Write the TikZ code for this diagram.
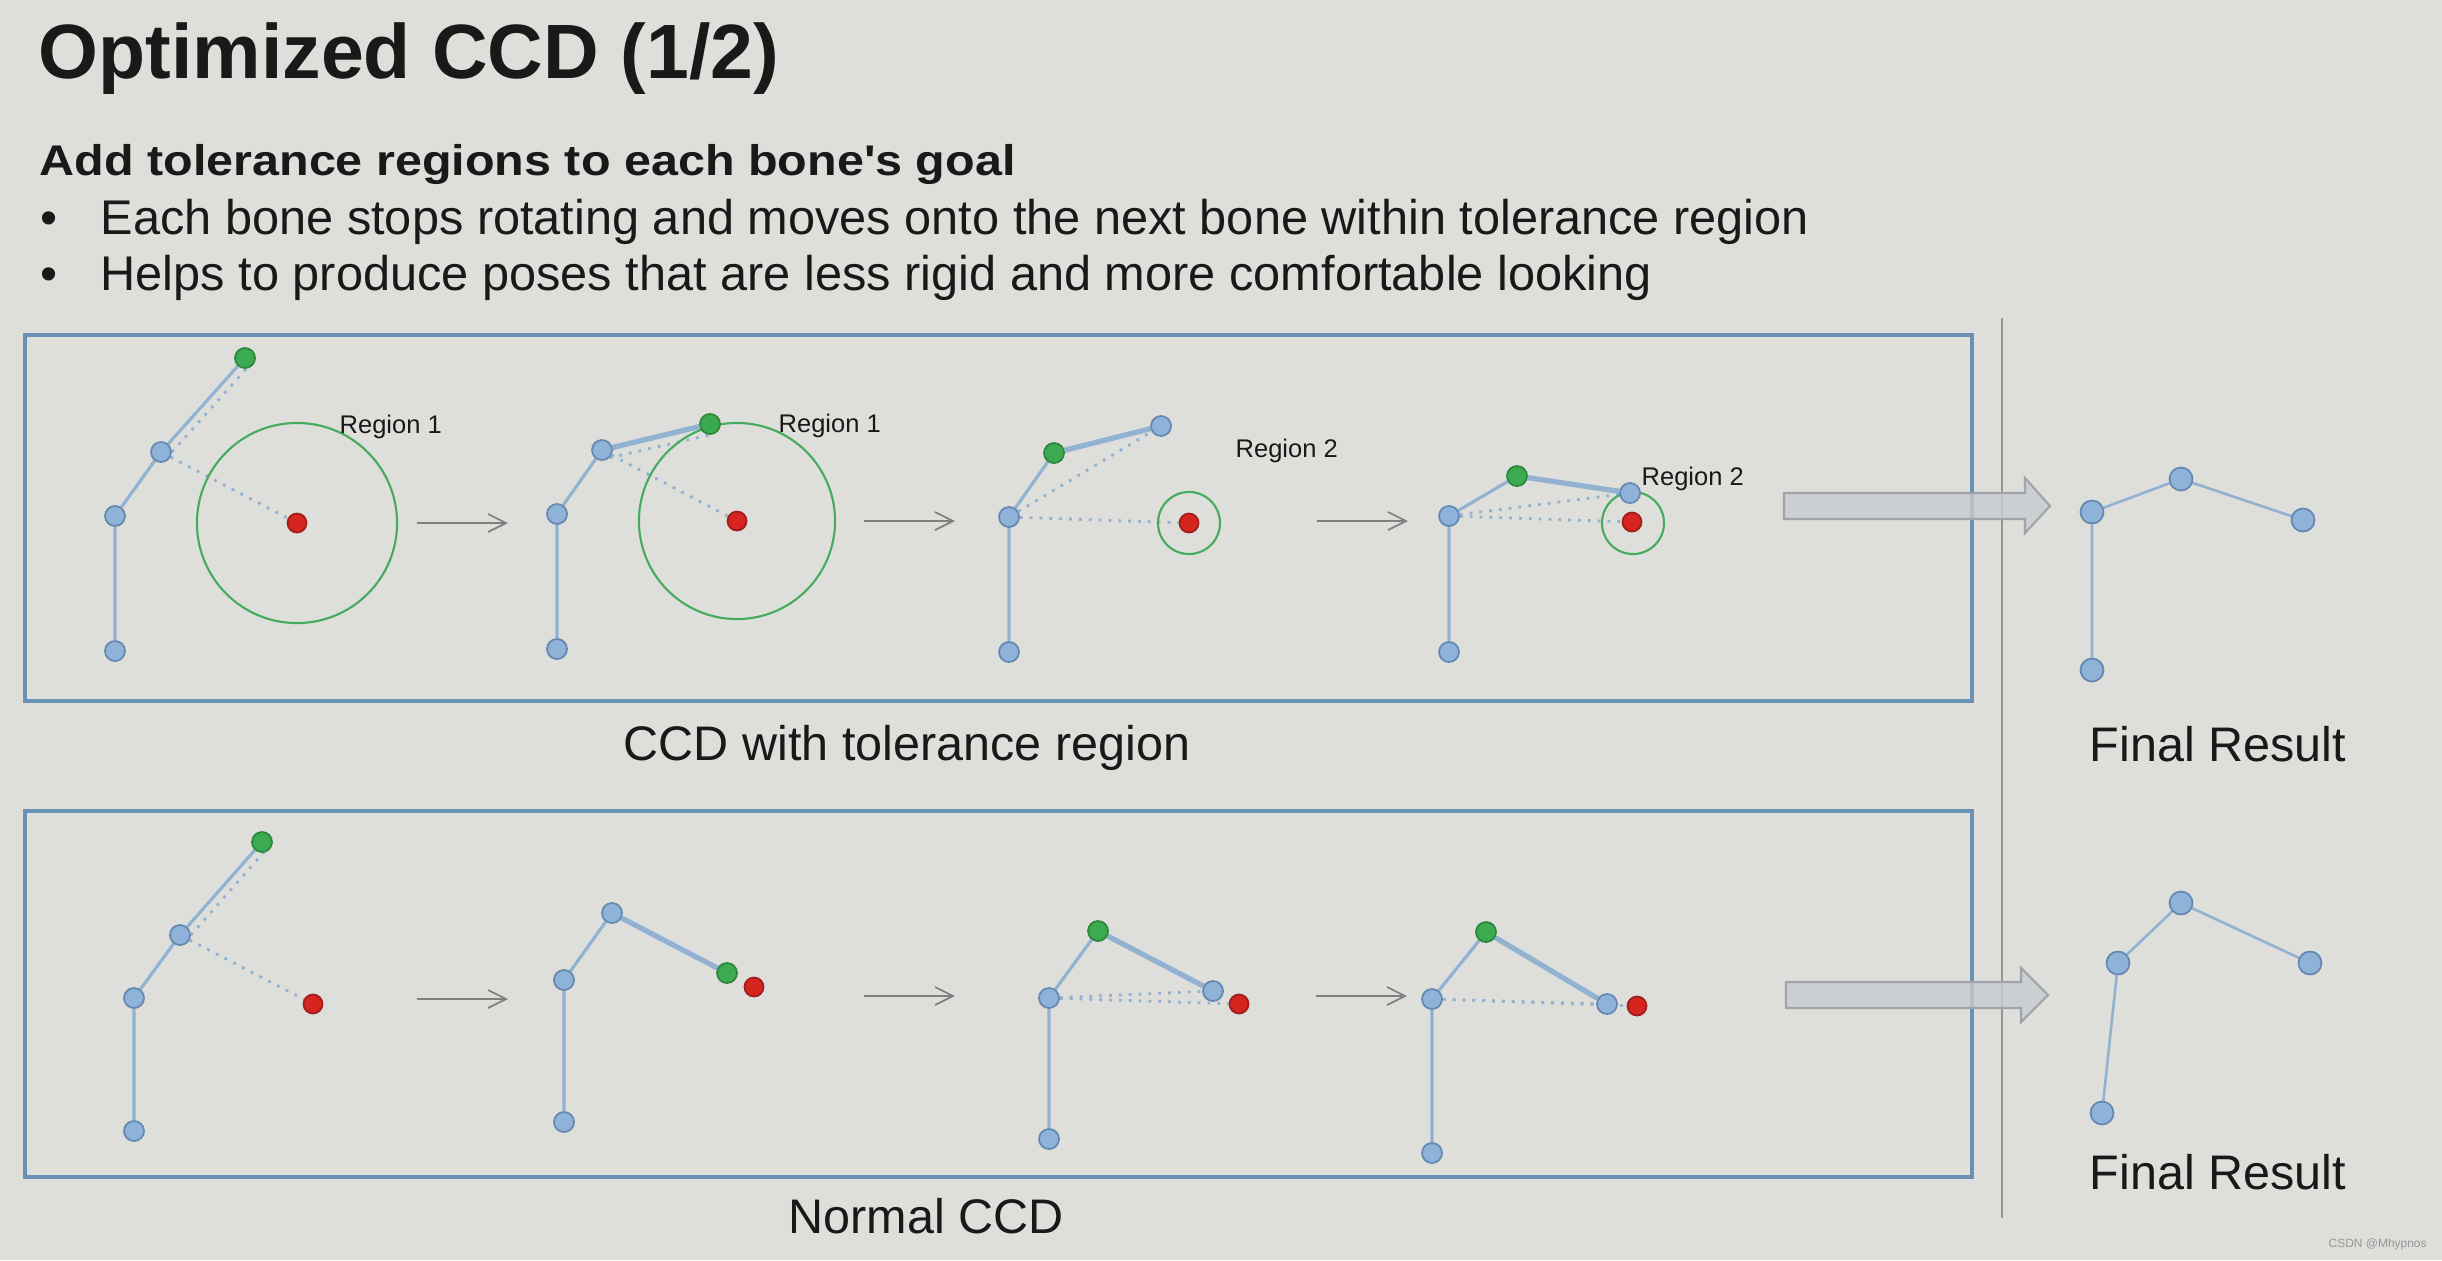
\documentclass[tikz,border=0pt]{standalone}
\usepackage{fontspec}
\setmainfont{Liberation Sans}[Ligatures=TeXOff]
\usetikzlibrary{arrows.meta}
\usetikzlibrary{backgrounds}

\definecolor{slidebg}{RGB}{222,223,218}
\definecolor{framecol}{RGB}{104,146,180}
\definecolor{sepcol}{RGB}{150,150,150}
\definecolor{bonecol}{RGB}{146,178,210}
\definecolor{jointfill}{RGB}{142,178,216}
\definecolor{jointedge}{RGB}{100,136,176}
\definecolor{effgreen}{RGB}{60,170,80}
\definecolor{effedge}{RGB}{45,135,60}
\definecolor{goalred}{RGB}{214,36,30}
\definecolor{goaledge}{RGB}{160,30,30}
\definecolor{regiongreen}{RGB}{70,170,95}
\definecolor{textcol}{RGB}{25,25,25}
\definecolor{arrowfill}{RGB}{200,203,207}
\definecolor{arrowedge}{RGB}{160,164,170}

\begin{document}
\begin{tikzpicture}[x=0.01cm, y=-0.01cm]
            \tikzstyle{bone joint} = [circle, inner sep=0, minimum size=0.2cm, fill=jointfill, draw=jointedge, line width=0.5pt]
            \tikzstyle{final joint} = [bone joint, minimum size=0.23cm]
            \tikzstyle{effector joint} = [bone joint, fill=effgreen, draw=effedge]
            \tikzstyle{goal point} = [bone joint, minimum size=0.19cm, fill=goalred, draw=goaledge]
            \tikzstyle{tolerance region} = [circle, inner sep=0, draw=regiongreen, line width=0.6pt]
            \tikzstyle{bone} = [bonecol, line width=0.9pt]
            \tikzstyle{active bone} = [bonecol, line width=1.5pt]
            \tikzstyle{bone guide} = [bonecol, line width=0.8pt, dotted]
            \tikzstyle{stage arrow} = [gray, line width=0.5pt, -{Straight Barb[length=1.8mm, width=1.8mm]}]
            \tikzstyle{panel frame} = [draw=framecol, line width=0.9pt]
            \tikzstyle{result arrow} = [fill=arrowfill, draw=arrowedge, line width=0.6pt, fill opacity=0.8]
            \tikzstyle{slide text} = [anchor=base west, inner sep=0, text=textcol]
            \tikzstyle{region label} = [slide text, font=\fontsize{7.25}{9}\selectfont]
            \tikzstyle{caption} = [slide text, font=\fontsize{13.8}{16}\selectfont]

            \useasboundingbox (0,0) rectangle (2442,1260);

            \node[slide text, font=\fontsize{21.9}{26}\selectfont\bfseries] (title) at (38,78) {Optimized CCD (1/2)};
            \node[slide text, font=\fontsize{12.2}{15}\selectfont\bfseries] (subtitle) at (39,175) {\scalebox{1.13}[1]{Add tolerance regions to each bone's goal}};
            \node[caption, font=\fontsize{13.85}{16}\selectfont] (dot1) at (40,234) {•};
            \node[caption, font=\fontsize{13.85}{16}\selectfont] (dot2) at (40,290) {•};
            \node[caption, font=\fontsize{13.85}{16}\selectfont] (item1) at (100,234) {Each bone stops rotating and moves onto the next bone within tolerance region};
            \node[caption, font=\fontsize{13.85}{16}\selectfont] (item2) at (100,290) {Helps to produce poses that are less rigid and more comfortable looking};

            \draw[panel frame] (25,335) rectangle (1972,701);
            \draw[panel frame] (25,811) rectangle (1972,1177);
            \draw[sepcol, line width=0.55pt] (2002,318) -- (2002,1218);

            \node[caption] (toplabel) at (623,760) {CCD with tolerance region};
            \node[caption] (botlabel) at (788,1233) {Normal CCD};
            \node[caption] (topfinal) at (2089,761) {Final Result};
            \node[caption] (botfinal) at (2089,1189) {Final Result};
            \node[slide text, text=sepcol, font=\fontsize{3.4}{4}\selectfont] (mark) at (2328,1247) {CSDN @Mhypnos};

            \node[tolerance region, minimum size=2cm] (t1reg) at (297,523) {};
            \node[tolerance region, minimum size=1.96cm] (t2reg) at (737,521) {};
            \node[tolerance region, minimum size=0.62cm] (t3reg) at (1189,523) {};
            \node[tolerance region, minimum size=0.62cm] (t4reg) at (1633,523) {};

            \node[region label] (t1lab) at (339,433) {Region 1};
            \node[region label] (t2lab) at (778,432) {Region 1};
            \node[region label] (t3lab) at (1235,457) {Region 2};
            \node[region label] (t4lab) at (1641,485) {Region 2};

            % with tolerance region
            \node[bone joint] (t1j1) at (115,651) {};
            \node[bone joint] (t1j2) at (115,516) {};
            \node[bone joint] (t1j3) at (161,452) {};
            \node[effector joint] (t1j4) at (245,358) {};
            \node[goal point] (t1g) at (297,523) {};

            \node[bone joint] (t2j1) at (557,649) {};
            \node[bone joint] (t2j2) at (557,514) {};
            \node[bone joint] (t2j3) at (602,450) {};
            \node[effector joint] (t2j4) at (710,424) {};
            \node[goal point] (t2g) at (737,521) {};

            \node[bone joint] (t3j1) at (1009,652) {};
            \node[bone joint] (t3j2) at (1009,517) {};
            \node[effector joint] (t3j3) at (1054,453) {};
            \node[bone joint] (t3j4) at (1161,426) {};
            \node[goal point] (t3g) at (1189,523) {};

            \node[bone joint] (t4j1) at (1449,652) {};
            \node[bone joint] (t4j2) at (1449,516) {};
            \node[effector joint] (t4j3) at (1517,476) {};
            \node[bone joint] (t4j4) at (1630,493) {};
            \node[goal point] (t4g) at (1632,522) {};

            % normal CCD
            \node[bone joint] (b1j1) at (134,1131) {};
            \node[bone joint] (b1j2) at (134,998) {};
            \node[bone joint] (b1j3) at (180,935) {};
            \node[effector joint] (b1j4) at (262,842) {};
            \node[goal point] (b1g) at (313,1004) {};

            \node[bone joint] (b2j1) at (564,1122) {};
            \node[bone joint] (b2j2) at (564,980) {};
            \node[bone joint] (b2j3) at (612,913) {};
            \node[effector joint] (b2j4) at (727,973) {};
            \node[goal point] (b2g) at (754,987) {};

            \node[bone joint] (b3j1) at (1049,1139) {};
            \node[bone joint] (b3j2) at (1049,998) {};
            \node[effector joint] (b3j3) at (1098,931) {};
            \node[bone joint] (b3j4) at (1213,991) {};
            \node[goal point] (b3g) at (1239,1004) {};

            \node[bone joint] (b4j1) at (1432,1153) {};
            \node[bone joint] (b4j2) at (1432,999) {};
            \node[effector joint] (b4j3) at (1486,932) {};
            \node[bone joint] (b4j4) at (1607,1004) {};
            \node[goal point] (b4g) at (1637,1006) {};

            % final results
            \node[final joint] (tfj1) at (2092,670) {};
            \node[final joint] (tfj2) at (2092,512) {};
            \node[final joint] (tfj3) at (2181,479) {};
            \node[final joint] (tfj4) at (2303,520) {};

            \node[final joint] (bfj1) at (2102,1113) {};
            \node[final joint] (bfj2) at (2118,963) {};
            \node[final joint] (bfj3) at (2181,903) {};
            \node[final joint] (bfj4) at (2310,963) {};

            \draw[result arrow] (1784,493) -- (2025,493) -- (2025,478) -- (2050,506) -- (2025,533) -- (2025,519) -- (1784,519) -- cycle;
            \draw[result arrow] (1786,982) -- (2021,982) -- (2021,968) -- (2048,995) -- (2021,1022) -- (2021,1008) -- (1786,1008) -- cycle;

            \foreach \n/\x/\y in {1/417/523, 2/864/521, 3/1317/521, 4/417/999, 5/864/996, 6/1316/996} {
                \coordinate (arr\n) at (\x,\y);
                \draw[stage arrow] (arr\n) -- ++(91,0);
            }

            \begin{pgfonlayer}{background}
                \fill[slidebg] (0,0) rectangle (2442,1260);
                \foreach \s in {t1,b1} \draw[bone] (\s j1) -- (\s j2) -- (\s j3) -- (\s j4);
                \foreach \s in {t2,t3,t4,b2,b3,b4} {
                    \draw[bone] (\s j1) -- (\s j2) -- (\s j3);
                    \draw[active bone] (\s j3) -- (\s j4);
                }
                \foreach \s in {tf,bf} \draw[bone, line width=0.75pt] (\s j1) -- (\s j2) -- (\s j3) -- (\s j4);

                \draw[bone guide] (t1j3.east) -- (t1j4.east);
                \draw[bone guide] (t1j3) -- (t1g);
                \draw[bone guide] (t2j3.south east) -- (t2j4.south);
                \draw[bone guide] (t2j3) -- (t2g);
                \draw[bone guide] (t3j2) -- (t3j4);
                \draw[bone guide] (t3j2) -- (t3g);
                \draw[bone guide] (t4j2) -- (t4j4);
                \draw[bone guide] (t4j2) -- (t4g);
                \draw[bone guide] (b1j3.east) -- (b1j4.east);
                \draw[bone guide] (b1j3) -- (b1g);
                \draw[bone guide] (b3j2) -- (b3j4);
                \draw[bone guide] (b3j2) -- (b3g);
                \draw[bone guide] (b4j2) -- (b4j4);
                \draw[bone guide] (b4j2) -- (b4g);
            \end{pgfonlayer}

        \end{tikzpicture}
\end{document}
